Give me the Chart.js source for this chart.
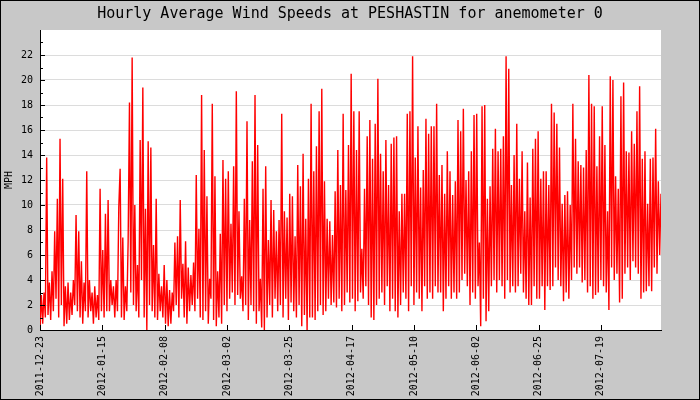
<!DOCTYPE html>
<html>
<head>
<meta charset="utf-8">
<title>Hourly Average Wind Speeds at PESHASTIN</title>
<script src="https://cdn.jsdelivr.net/npm/chart.js@4.4.1/dist/chart.umd.min.js"></script>
<style>
  html, body { margin: 0; padding: 0; background: #c8c8c8; }
  #wind { display: block; }
</style>
</head>
<body>
<canvas id="wind" width="700" height="400"></canvas>
<script>
// wind speed readings (mph) every 12 hours from 2011-12-23, lull / gust pairs
const HOURS_PER_STEP = 12;
const speeds = [
  0.2, 2.8, 0.5, 3.0, 1.0, 13.8, 1.2, 3.8, 0.8, 4.7, 1.5, 7.9, 2.5, 10.5, 1.0, 15.3, 2.0, 12.1, 0.3, 3.5,
  0.5, 3.8, 0.8, 3.0, 1.2, 4.0, 2.0, 9.2, 1.5, 7.9, 1.0, 5.5, 0.5, 3.8, 1.5, 12.7, 1.0, 4.0, 1.5, 3.0,
  0.5, 3.5, 1.0, 2.8, 0.8, 11.3, 1.5, 6.4, 1.0, 9.3, 1.5, 10.4, 1.5, 4.0, 2.0, 3.5, 1.0, 4.0, 1.5, 9.8,
  12.9, 1.0, 7.4, 0.8, 3.5, 1.5, 7.1, 18.2, 3.0, 21.8, 2.0, 10.0, 1.5, 5.2, 1.0, 15.2, 4.0, 19.4, 1.0, 9.7,
  0.0, 15.1, 2.0, 14.6, 1.5, 6.8, 1.0, 10.5, 0.8, 4.5, 1.5, 3.5, 1.0, 5.2, 0.5, 4.0, 0.3, 3.2, 0.5, 3.0,
  1.5, 7.0, 2.0, 7.5, 1.0, 10.4, 2.5, 5.3, 1.0, 7.1, 0.5, 5.0, 1.5, 4.4, 2.0, 5.4, 1.5, 12.4, 2.5, 8.1,
  1.0, 18.8, 0.8, 14.4, 1.5, 10.7, 0.5, 4.1, 2.5, 18.1, 0.8, 12.3, 0.3, 4.7, 1.0, 7.7, 0.5, 13.6, 2.0, 12.1,
  1.5, 12.7, 2.5, 8.5, 3.0, 13.1, 2.0, 19.1, 2.8, 9.5, 2.5, 4.3, 1.5, 10.5, 2.0, 16.7, 0.8, 8.8, 2.0, 13.5,
  1.5, 18.8, 0.5, 14.8, 1.5, 4.1, 0.2, 11.3, 0.0, 13.1, 1.0, 7.2, 2.0, 10.4, 1.0, 9.6, 2.5, 7.9, 1.5, 8.8,
  2.0, 17.3, 1.0, 9.5, 2.5, 9.0, 0.8, 10.9, 2.2, 10.7, 1.5, 7.5, 1.0, 13.2, 2.0, 11.5, 0.3, 14.1, 1.2, 8.9,
  0.0, 12.1, 1.0, 18.1, 1.0, 12.7, 0.8, 14.7, 1.5, 17.5, 2.0, 19.3, 1.2, 11.9, 1.5, 8.9, 2.5, 8.7, 2.0, 7.6,
  2.2, 11.1, 1.8, 14.4, 2.5, 11.6, 1.5, 17.3, 2.0, 11.2, 3.0, 14.8, 2.2, 20.5, 2.5, 17.5, 1.5, 14.4, 2.3, 17.5,
  3.0, 6.5, 2.5, 11.3, 3.5, 15.5, 2.0, 16.8, 1.0, 13.7, 0.8, 16.5, 2.0, 20.1, 2.5, 14.1, 3.0, 12.7, 2.0, 15.2,
  3.5, 11.6, 1.5, 14.9, 2.5, 15.4, 1.5, 15.5, 1.0, 9.5, 2.0, 10.9, 3.0, 10.9, 2.5, 17.3, 1.5, 17.5, 3.5, 21.9,
  2.0, 13.8, 3.0, 16.3, 2.5, 11.4, 1.5, 12.8, 3.5, 16.9, 2.5, 15.7, 3.0, 16.3, 2.5, 16.3, 3.5, 18.1, 3.0, 12.4,
  3.0, 13.2, 1.5, 10.9, 2.5, 14.3, 3.5, 12.7, 2.5, 10.8, 3.0, 11.9, 2.5, 16.8, 3.0, 15.9, 4.0, 17.7, 4.5, 12.0,
  3.5, 12.7, 2.0, 14.3, 3.0, 17.2, 2.5, 17.3, 3.5, 7.0, 0.3, 17.9, 2.5, 18.0, 0.7, 10.5, 1.5, 11.5, 3.5, 14.5,
  4.0, 16.1, 3.0, 14.3, 4.0, 14.5, 3.5, 15.5, 2.5, 21.9, 4.0, 20.9, 3.0, 11.6, 3.5, 14.0, 3.0, 16.5, 3.5, 12.1,
  4.5, 14.3, 3.0, 9.5, 2.5, 13.4, 2.0, 10.6, 2.0, 14.5, 3.5, 15.3, 2.5, 15.9, 2.5, 12.1, 3.5, 12.7, 1.6, 12.7,
  3.5, 11.6, 3.2, 18.1, 3.5, 17.4, 5.0, 16.5, 4.0, 14.6, 3.5, 10.1, 2.3, 10.8, 3.0, 11.1, 2.5, 10.0, 4.0, 18.1,
  5.0, 15.3, 4.5, 13.5, 5.0, 13.2, 3.8, 13.0, 4.0, 14.4, 3.0, 20.4, 3.5, 18.1, 2.5, 17.9, 2.8, 13.1, 3.0, 15.5,
  4.0, 17.9, 3.5, 14.8, 3.0, 9.5, 1.6, 20.3, 5.0, 20.0, 4.0, 12.3, 4.5, 11.3, 2.2, 18.7, 2.5, 19.8, 4.5, 14.3,
  5.0, 14.2, 4.0, 15.9, 5.5, 14.9, 5.0, 17.5, 4.5, 19.5, 2.5, 13.7, 3.0, 14.3, 3.1, 10.1, 3.5, 13.7, 3.1, 13.8,
  5.0, 16.1, 4.5, 11.9, 6.0, 10.9
];

// date labels along the bottom, one every 560 hours
const tickLabels = [
  '2011-12-23', '2012-01-15', '2012-02-08', '2012-03-02', '2012-03-25',
  '2012-04-17', '2012-05-10', '2012-06-02', '2012-06-25', '2012-07-19'
];
const HOURS_PER_LABEL = 560;
const Y_MAX = 24;

Chart.defaults.font.family = "'DejaVu Sans Mono', monospace";
Chart.defaults.color = '#000';

// gray frame + white plot area, like the old gd charts
const frame = {
  id: 'frame',
  beforeDraw(chart) {
    const { ctx, width, height, chartArea: a } = chart;
    ctx.save();
    ctx.fillStyle = '#c8c8c8';
    ctx.fillRect(0, 0, width, height);
    ctx.fillStyle = '#fff';
    ctx.fillRect(a.left, a.top, a.right - a.left, a.bottom - a.top);
    ctx.strokeStyle = '#000';
    ctx.lineWidth = 1;
    ctx.strokeRect(0.5, 0.5, width - 1, height - 1);
    ctx.restore();
  }
};

// tick marks point into the plot
const innerTicks = {
  id: 'innerTicks',
  afterDatasetsDraw(chart) {
    const { ctx, chartArea: a, scales } = chart;
    ctx.save();
    ctx.strokeStyle = '#000';
    ctx.lineWidth = 1;
    ctx.beginPath();
    scales.y.ticks.forEach(t => {
      if (t.value <= 0 || t.value >= Y_MAX) return;
      const y = Math.round(scales.y.getPixelForValue(t.value)) + 0.5;
      ctx.moveTo(a.left, y);
      ctx.lineTo(a.left + (t.value % 2 === 0 ? 5 : 3), y);
    });
    scales.x.ticks.forEach(t => {
      const x = Math.round(scales.x.getPixelForValue(t.value)) + 0.5;
      ctx.moveTo(x, a.bottom);
      ctx.lineTo(x, a.bottom - 5);
    });
    ctx.stroke();
    ctx.restore();
  }
};

new Chart(document.getElementById('wind'), {
  type: 'line',
  data: {
    datasets: [{
      data: speeds.map((v, i) => ({ x: i * HOURS_PER_STEP, y: v })),
      borderColor: '#ff0000',
      borderWidth: 1.4,
      pointRadius: 0,
      tension: 0,
      fill: false
    }]
  },
  options: {
    responsive: false,
    animation: false,
    devicePixelRatio: 1,
    plugins: {
      legend: { display: false },
      tooltip: { enabled: false },
      title: {
        display: true,
        text: 'Hourly Average Wind Speeds at PESHASTIN for anemometer 0',
        font: { size: 15, weight: 'normal' },
        color: '#000',
        padding: { top: 5, bottom: 7 }
      }
    },
    scales: {
      x: {
        type: 'linear',
        min: 0,
        max: (speeds.length - 1) * HOURS_PER_STEP,
        afterBuildTicks: s => { s.ticks = tickLabels.map((_, k) => ({ value: k * HOURS_PER_LABEL })); },
        afterFit: s => { s.height = 70; },
        grid: { display: false, drawTicks: false },
        border: { display: true, color: '#000', width: 1 },
        ticks: {
          autoSkip: false,
          minRotation: 90,
          maxRotation: 90,
          padding: 6,
          font: { size: 10 },
          callback: (v, i) => tickLabels[i]
        }
      },
      y: {
        min: 0,
        max: Y_MAX,
        afterFit: s => { s.width = 40; },
        grid: {
          drawTicks: false,
          color: c => (c.tick && c.tick.value % 2 === 0 && c.tick.value > 0 && c.tick.value < Y_MAX) ? '#dcdcdc' : 'rgba(0,0,0,0)'
        },
        border: { display: true, color: '#000', width: 1 },
        ticks: {
          stepSize: 1,
          autoSkip: false,
          padding: 7,
          font: { size: 10 },
          callback: v => (v % 2 === 0 && v < Y_MAX) ? v : ''
        },
        title: {
          display: true,
          text: 'MPH',
          font: { size: 10 },
          padding: { top: 3, bottom: 0 }
        }
      },
      // empty margin on the right so the title centres on the whole image
      margin: {
        position: 'right',
        afterFit: s => { s.width = 39; },
        grid: { display: false, drawTicks: false },
        border: { display: false },
        ticks: { display: false }
      }
    }
  },
  plugins: [frame, innerTicks]
});
</script>
</body>
</html>
